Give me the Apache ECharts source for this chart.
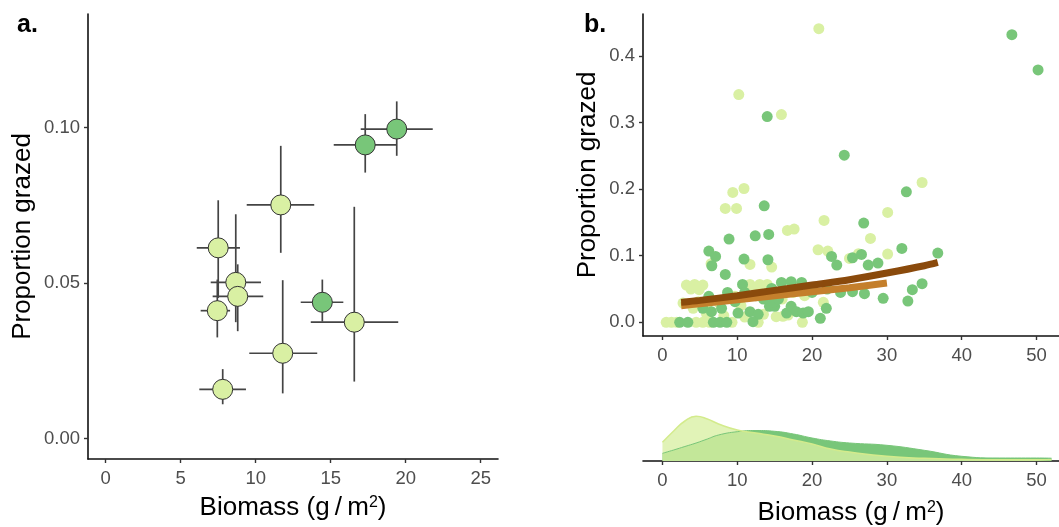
<!DOCTYPE html>
<html>
<head>
<meta charset="utf-8">
<script src="https://cdn.jsdelivr.net/npm/echarts@6/dist/echarts.min.js"></script>
<style>
  html, body { margin: 0; padding: 0; background: #fff; }
  #chart { width: 1059px; height: 527px; }
</style>
</head>
<body>
<div id="chart"></div>
<script>
// panel a: site means with error bars
const aBiomass   = [19.4, 17.3, 11.67, 7.5, 8.67, 8.8, 7.44, 14.44, 16.57, 11.8, 7.8];
const aGrazed    = [0.0995, 0.0944, 0.0751, 0.0613, 0.0502, 0.0457, 0.0411, 0.0438, 0.0374, 0.0274, 0.0158];
const aBiomassLo = [17.0, 15.2, 9.4, 6.07, 7.0, 7.13, 6.33, 13.0, 13.67, 9.57, 6.24];
const aBiomassHi = [21.8, 19.4, 13.9, 8.95, 10.35, 10.5, 8.29, 15.84, 19.5, 14.1, 9.35];
const aGrazedLo  = [0.0909, 0.0855, 0.0597, 0.0452, 0.0374, 0.0345, 0.0325, 0.0376, 0.0183, 0.0145, 0.011];
const aGrazedHi  = [0.1084, 0.1043, 0.0941, 0.0766, 0.0721, 0.056, 0.0511, 0.0511, 0.0745, 0.0509, 0.0223];
const aGroup     = ["dark", "dark", "light", "light", "light", "light", "light", "dark", "light", "light", "light"];
const aXTicks = [0, 5, 10, 15, 20, 25];
const aYTicks = [0, 0.05, 0.1];

// panel b: individual plots [biomass, proportion grazed]
const bLight = [
    [20.9, 0.441], [10.2, 0.342], [15.9, 0.312], [34.7, 0.21],
    [9.4, 0.195], [10.9, 0.201], [8.4, 0.171], [9.9, 0.171],
    [21.6, 0.153], [30.1, 0.165], [16.7, 0.138], [17.6, 0.14], [27.8, 0.126],
    [20.8, 0.109], [22.1, 0.107], [30.1, 0.1025], [26.2, 0.103], [25.0, 0.096],
    [11.7, 0.087], [14.6, 0.083], [6.5, 0.088],
    [3.2, 0.056], [4.3, 0.057], [5.4, 0.056], [3.8, 0.05], [4.9, 0.049],
    [11.7, 0.057], [13.0, 0.057], [14.0, 0.057], [12.4, 0.052],
    [2.75, 0.029], [4.1, 0.021], [4.8, 0.031], [9.7, 0.039], [7.5, 0.03], [6.0, 0.027],
    [0.5, 0], [1.2, 0], [1.9, 0], [4.5, 0], [5.4, 0], [6.3, 0], [9.3, 0], [12.8, 0], [18.7, 0],
    [15.2, 0.0085], [16.8, 0.011], [16.1, 0.009], [11.0, 0.008], [13.5, 0.012], [8.2, 0.01], [5.9, 0.012],
    [17.5, 0.045], [19.0, 0.04], [16.0, 0.035], [21.5, 0.03], [10.5, 0.025]
];
const bDark = [
    [46.7, 0.432], [50.2, 0.379], [14.0, 0.309], [24.3, 0.251], [32.6, 0.196], [13.6, 0.175],
    [14.2, 0.132], [12.4, 0.13], [8.9, 0.125], [26.9, 0.149], [36.8, 0.104], [32.0, 0.111],
    [6.2, 0.107], [7.1, 0.099], [6.6, 0.085], [10.9, 0.095], [14.1, 0.094], [22.6, 0.099],
    [23.3, 0.086], [25.4, 0.097], [26.6, 0.102], [27.5, 0.086], [28.8, 0.089],
    [8.4, 0.072], [10.7, 0.057], [15.9, 0.06], [17.2, 0.061], [18.6, 0.06], [14.6, 0.051],
    [8.7, 0.045], [6.2, 0.039],
    [33.4, 0.049], [34.7, 0.058], [32.8, 0.032], [29.5, 0.036], [27.0, 0.043], [23.8, 0.045], [25.4, 0.046],
    [5.4, 0.021], [6.55, 0.016], [7.9, 0.021], [9.7, 0.031], [10.1, 0.014], [11.7, 0.016], [12.8, 0.012], [12.1, 0.001],
    [14.3, 0.024], [15.0, 0.024], [16.6, 0.014], [17.2, 0.024], [17.9, 0.016], [18.8, 0.014], [19.5, 0.016],
    [21.9, 0.021], [21.1, 0.006],
    [2.3, 0], [3.4, 0], [6.8, 0], [7.7, 0], [8.6, 0],
    [13.5, 0.035], [14.8, 0.03], [15.5, 0.035], [12.5, 0.04], [11.0, 0.045], [20.0, 0.045], [22.0, 0.05]
];
// fitted curves
const fitDarkX  = [2.5, 5, 10, 15, 20, 25, 30, 35, 36.8];
const fitDarkY  = [0.030, 0.033, 0.040, 0.048, 0.056, 0.064, 0.074, 0.085, 0.090];
const fitLightX = [2.5, 5, 10, 15, 20, 25, 30];
const fitLightY = [0.025, 0.028, 0.034, 0.040, 0.046, 0.052, 0.059];
const bXTicks = [0, 10, 20, 30, 40, 50];
const bYTicks = [0, 0.1, 0.2, 0.3, 0.4];

// biomass density (marginal)
const densX     = [0, 1.5, 3, 4.5, 6, 7.5, 10, 12.5, 15, 17.5, 20, 22.5, 25, 30, 35, 40, 45, 50, 52];
const densLight = [0.0187, 0.030, 0.040, 0.0447, 0.042, 0.037, 0.031, 0.028, 0.025, 0.021, 0.017, 0.012, 0.009, 0.0047, 0.0027, 0.0017, 0.0013, 0.0013, 0.0013];
const densDark  = [0.0077, 0.011, 0.0145, 0.018, 0.022, 0.026, 0.0293, 0.0305, 0.0297, 0.027, 0.023, 0.020, 0.018, 0.0157, 0.0107, 0.0047, 0.003, 0.003, 0.0028];

const LIGHT = "#d9f0a3";
const DARK = "#78c679";
const FONT = "'Liberation Sans', Arial, sans-serif";

const chart = echarts.init(document.getElementById("chart"));

const axisLine = { show: true, onZero: false, lineStyle: { color: "#111", width: 1.6 } };
const axisTick = (vals) => ({ show: true, length: 4, lineStyle: { color: "#333", width: 1.4 }, customValues: vals });
const tickLabel = (vals, fmt, margin) => ({
    color: "#4d4d4d", fontSize: 18.5, fontFamily: FONT, margin: margin,
    customValues: vals, formatter: fmt
});
const nameStyle = {
    color: "#000", fontSize: 26, fontFamily: FONT,
    rich: { s: { fontSize: 16, fontFamily: FONT, color: "#000", verticalAlign: "top", padding: [0, 0, 10, 0] } }
};
const bioName = "Biomass (g\u2009/\u2009m{s|2})";

const errData = aBiomass.map((x, i) => [x, aGrazed[i], aBiomassLo[i], aBiomassHi[i], aGrazedLo[i], aGrazedHi[i]]);

const option = {
    animation: false,
    backgroundColor: "#fff",
    title: [
        { text: "a.", left: 12, top: 8, textStyle: { fontSize: 25, fontWeight: "bold", color: "#000", fontFamily: FONT } },
        { text: "b.", left: 579, top: 8, textStyle: { fontSize: 25, fontWeight: "bold", color: "#000", fontFamily: FONT } }
    ],
    grid: [
        { left: 88, top: 14, width: 410, height: 445 },
        { left: 643, top: 14, width: 416, height: 322 },
        { left: 643, top: 401, width: 416, height: 60 }
    ],
    xAxis: [
        {
            gridIndex: 0, type: "value", min: -1.18, max: 26.15,
            axisLine: axisLine, axisTick: axisTick(aXTicks), splitLine: { show: false },
            axisLabel: tickLabel(aXTicks, (v) => String(v), 10),
            name: bioName, nameLocation: "middle", nameGap: 36, nameTextStyle: nameStyle
        },
        {
            gridIndex: 1, type: "value", min: -2.6, max: 53,
            axisLine: axisLine, axisTick: axisTick(bXTicks), splitLine: { show: false },
            axisLabel: tickLabel(bXTicks, (v) => String(v), 10)
        },
        {
            gridIndex: 2, type: "value", min: -2.6, max: 53,
            axisLine: axisLine, axisTick: axisTick(bXTicks), splitLine: { show: false },
            axisLabel: tickLabel(bXTicks, (v) => String(v), 10),
            name: bioName, nameLocation: "middle", nameGap: 39, nameTextStyle: nameStyle
        }
    ],
    yAxis: [
        {
            gridIndex: 0, type: "value", min: -0.0066, max: 0.1365,
            axisLine: axisLine, axisTick: axisTick(aYTicks), splitLine: { show: false },
            axisLabel: tickLabel(aYTicks, (v) => v.toFixed(2), 8),
            name: "Proportion grazed", nameLocation: "middle", nameGap: 52, nameRotate: 90,
            nameTextStyle: nameStyle
        },
        {
            gridIndex: 1, type: "value", min: -0.0205, max: 0.463,
            axisLine: axisLine, axisTick: axisTick(bYTicks), splitLine: { show: false },
            axisLabel: tickLabel(bYTicks, (v) => v.toFixed(1), 8),
            name: "Proportion grazed", nameLocation: "middle", nameGap: 42, nameRotate: 90,
            nameTextStyle: nameStyle
        },
        {
            gridIndex: 2, type: "value", min: 0, max: 0.06, show: false
        }
    ],
    series: [
        {
            // error bars for panel a
            type: "custom", xAxisIndex: 0, yAxisIndex: 0, z: 1,
            data: errData,
            encode: { x: [0, 2, 3], y: [1, 4, 5] },
            renderItem: function (params, api) {
                const h0 = api.coord([api.value(2), api.value(1)]);
                const h1 = api.coord([api.value(3), api.value(1)]);
                const v0 = api.coord([api.value(0), api.value(4)]);
                const v1 = api.coord([api.value(0), api.value(5)]);
                const style = { stroke: "#444", lineWidth: 1.7 };
                return {
                    type: "group",
                    children: [
                        { type: "line", shape: { x1: h0[0], y1: h0[1], x2: h1[0], y2: h1[1] }, style: style },
                        { type: "line", shape: { x1: v0[0], y1: v0[1], x2: v1[0], y2: v1[1] }, style: style }
                    ]
                };
            }
        },
        {
            type: "scatter", xAxisIndex: 0, yAxisIndex: 0, z: 3,
            symbolSize: 20,
            data: aBiomass.map((x, i) => ({
                value: [x, aGrazed[i]],
                itemStyle: { color: aGroup[i] === "dark" ? DARK : LIGHT, opacity: 1, borderColor: "#333", borderWidth: 1 }
            }))
        },
        {
            type: "scatter", xAxisIndex: 1, yAxisIndex: 1, symbolSize: 11,
            itemStyle: { color: LIGHT, opacity: 1 }, data: bLight
        },
        {
            type: "scatter", xAxisIndex: 1, yAxisIndex: 1, symbolSize: 11,
            itemStyle: { color: DARK, opacity: 1 }, data: bDark
        },
        {
            type: "line", xAxisIndex: 1, yAxisIndex: 1, smooth: 0.3, showSymbol: false, symbol: "none",
            lineStyle: { color: "#c47f2c", width: 7, cap: "butt" },
            data: fitLightX.map((x, i) => [x, fitLightY[i]])
        },
        {
            type: "line", xAxisIndex: 1, yAxisIndex: 1, smooth: 0.3, showSymbol: false, symbol: "none",
            lineStyle: { color: "#8a4a0c", width: 7, cap: "butt" },
            data: fitDarkX.map((x, i) => [x, fitDarkY[i]])
        },
        {
            type: "line", xAxisIndex: 2, yAxisIndex: 2, smooth: 0.5,
            showSymbol: false, symbol: "none",
            lineStyle: { color: DARK, width: 1 },
            areaStyle: { color: DARK, opacity: 1 },
            data: densX.map((x, i) => [x, densDark[i]])
        },
        {
            type: "line", xAxisIndex: 2, yAxisIndex: 2, smooth: 0.5,
            showSymbol: false, symbol: "none",
            lineStyle: { color: "#d3eb8c", width: 1.5 },
            areaStyle: { color: LIGHT, opacity: 0.78 },
            data: densX.map((x, i) => [x, densLight[i]])
        }
    ]
};

chart.setOption(option);
</script>
</body>
</html>
